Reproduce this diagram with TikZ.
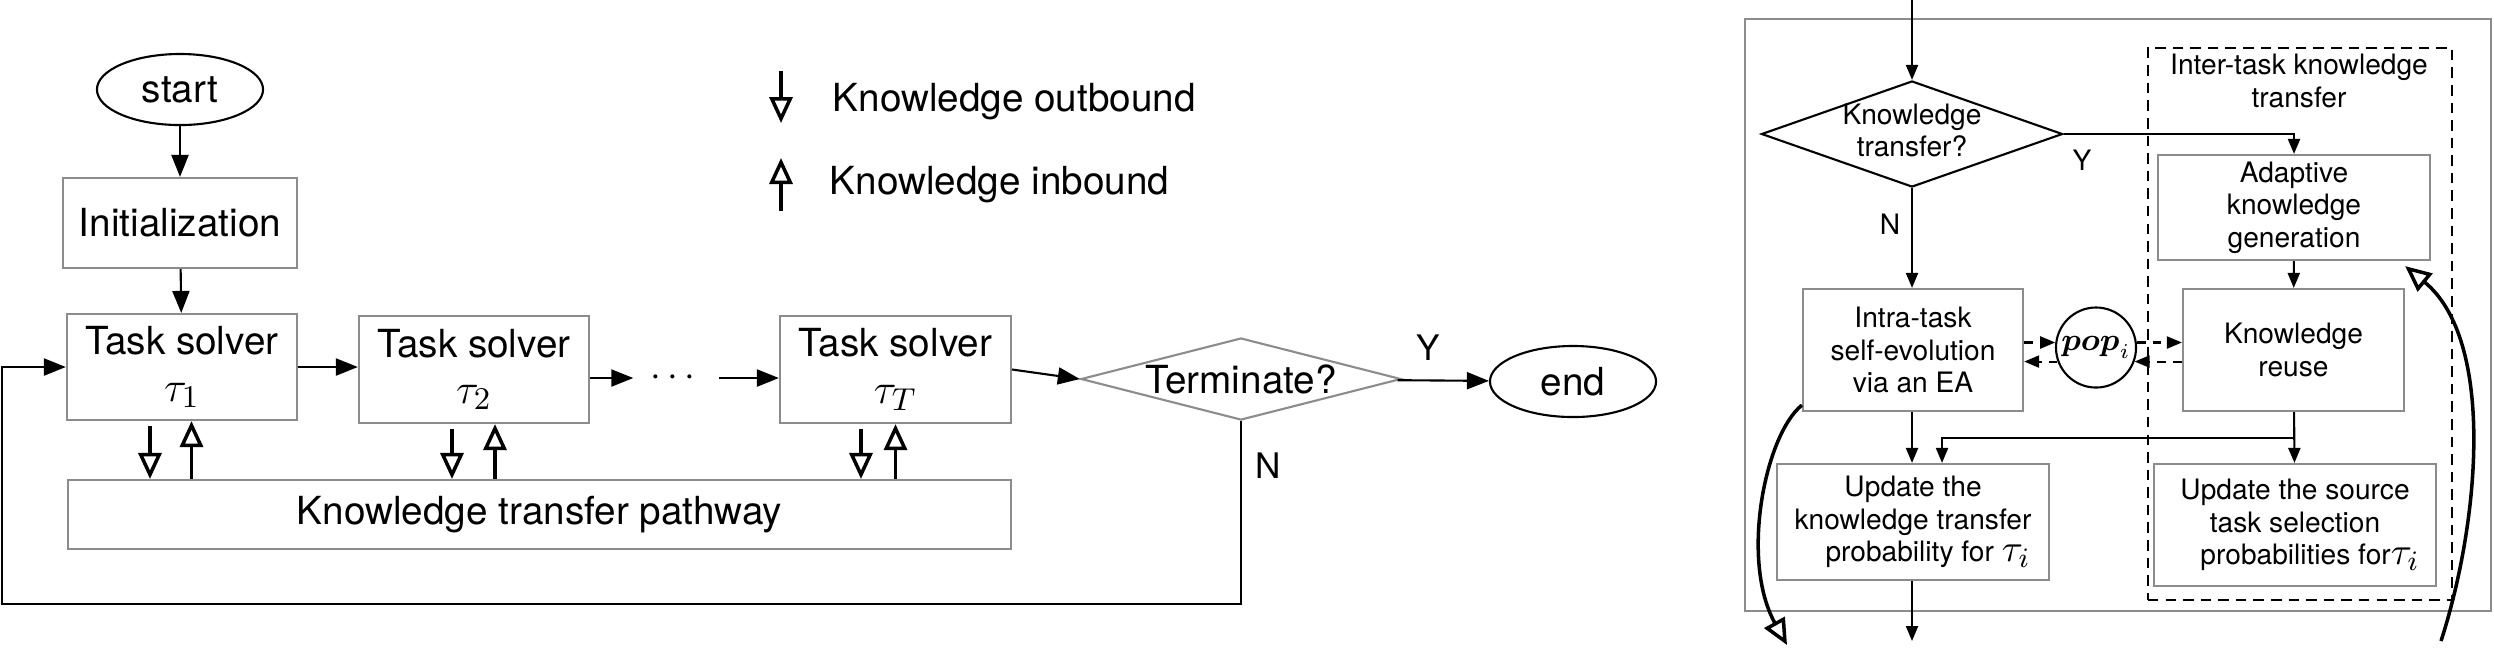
\documentclass[tikz,border=0pt]{standalone}
\usepackage{amsmath,amssymb}
\usepackage{fontspec}
\setmainfont{TeX Gyre Heros}
\usetikzlibrary{shapes.geometric,arrows.meta,positioning}
\definecolor{boxgray}{RGB}{140,140,140}
\newcommand{\bigtau}[1]{{\fontsize{13}{15}\selectfont$\tau_{#1}$}}
\newcommand{\midtau}[1]{{\fontsize{11}{9}\selectfont$\tau_{#1}$}}
\tikzset{
  greybox/.style={draw=boxgray,line width=0.6pt,inner sep=0pt,align=center},
  bigtxt/.style={font=\fontsize{11}{13.2}\selectfont},
  smalltxt/.style={font=\fontsize{8}{9.2}\selectfont},
  lbl/.style={inner sep=0pt},
  arr/.style={-{Triangle[length=2.2mm,width=1.7mm]},line width=0.6pt},
  sarr/.style={-{Triangle[length=1.5mm,width=1.2mm]},line width=0.6pt},
  darr/.style={sarr,dash pattern=on 2.5pt off 2pt},
  openarr/.style={-{Triangle[open,length=2.6mm,width=2.3mm]},line width=1pt},
}

\begin{document}
\begin{tikzpicture}[x=0.01cm,y=-0.01cm]
\useasboundingbox (0,0) rectangle (2494,650);
% Main loop
\node[draw,ellipse,line width=0.6pt,inner sep=0pt,minimum width=1.66cm,minimum height=0.71cm,bigtxt] (start) at (180,89.5) {start};
\node[greybox,bigtxt,minimum width=2.34cm,minimum height=0.9cm] (init) at (180,223) {Initialization};
\node[greybox,bigtxt,minimum width=2.3cm,minimum height=1.06cm] (ts1) at (182,367) {Task solver\\\bigtau{1}};
\node[greybox,bigtxt,minimum width=2.3cm,minimum height=1.07cm] (ts2) at (474,369.5) {Task solver\\\bigtau{2}};
\node[bigtxt,inner sep=0pt,minimum width=0.84cm] (dots) at (676,378) {$\cdots$};
\node[greybox,bigtxt,minimum width=2.31cm,minimum height=1.07cm] (tsT) at (895.5,369.5) {Task solver\\\bigtau{T}};
\node[greybox,bigtxt,minimum width=9.43cm,minimum height=0.69cm] (ktp) at (539.5,514.5) {Knowledge transfer pathway};
\node[diamond,draw=boxgray,line width=0.6pt,aspect=3.9,inner sep=0pt,minimum width=3.2cm,minimum height=0.82cm,bigtxt] (term) at (1241,379) {\makebox[0pt]{Terminate?}};
\node[draw,ellipse,line width=0.6pt,inner sep=0pt,minimum width=1.66cm,minimum height=0.71cm,bigtxt] (finish) at (1573,381.5) {end};
\coordinate (fbl) at (2,604); % loop back corner
\draw[arr] (start) -- (init);
\draw[arr] (init) -- (ts1);
\draw[arr] (ts1.east) -- (ts1.east -| ts2.west);
\draw[arr] (ts2.east |- dots) -- (dots.west);
\draw[arr] (dots.east) -- (tsT.west |- dots);
\draw[arr] (tsT.east) -- (term.west);
\draw[arr] (term) -- (finish);
\draw[arr] (term.south) |- (fbl) |- (ts1.west);
\node[lbl,font=\fontsize{10}{12}\selectfont] (ylbl) at (1428,348) {Y};
\node[lbl,font=\fontsize{10}{12}\selectfont] (nlbl) at (1268,466) {N};
% Knowledge out/in
\foreach \t/\o/\i in {ts1/-3.2mm/0.95mm,ts2/-2.2mm/2.1mm,tsT/-3.45mm/0mm}{
  \draw[openarr,shorten <=0.5mm] ([xshift=\o]\t.south) -- ([xshift=\o]\t.south |- ktp.north);
  \draw[openarr] ([xshift=\i]\t.south |- ktp.north) -- ([xshift=\i]\t.south);
}
% Legend
\coordinate (outtop) at (781,71);
\coordinate (outbot) at (781,123);
\coordinate (intop) at (781,158);
\coordinate (inbot) at (781,211);
\draw[openarr] (outtop) -- (outbot);
\draw[openarr] (inbot) -- (intop);
\node[lbl,bigtxt,right = 5.1mm of {(781,102)}] (outlbl) {Knowledge outbound};
\node[lbl,bigtxt,right = 4.8mm of {(781,185)}] (inlbl) {Knowledge inbound};
% Task solver detail
\node[greybox,minimum width=7.46cm,minimum height=5.915cm] (frame) at (2118,315.25) {};
\node[draw,line width=0.6pt,dash pattern=on 3pt off 2pt,inner sep=0pt,minimum width=3.04cm,minimum height=5.52cm] (inter) at (2300,324) {};
\node[smalltxt,align=center,inner sep=0pt] (intertxt) at (2299,81) {Inter-task knowledge\\transfer};
\node[diamond,draw,line width=0.6pt,aspect=2.84,inner sep=0pt,minimum width=3.01cm,minimum height=1.06cm,smalltxt] (kt) at (1912,134) {\makebox[0pt]{\begin{tabular}{@{}c@{}}Knowledge\\transfer?\end{tabular}}};
\node[greybox,smalltxt,minimum width=2.2cm,minimum height=1.22cm] (intra) at (1913,350) {Intra-task\\self-evolution\\via an EA};
\node[draw,circle,line width=0.6pt,inner sep=0pt,minimum size=0.8cm,font=\fontsize{9}{10}\selectfont] (pop) at (2096,347.5) {$\boldsymbol{pop}_i$};
\node[greybox,smalltxt,minimum width=2.72cm,minimum height=1.05cm] (adg) at (2294,207.5) {Adaptive\\knowledge\\generation};
\node[greybox,smalltxt,minimum width=2.21cm,minimum height=1.22cm] (reuse) at (2293.5,350) {Knowledge\\reuse};
\node[greybox,smalltxt,minimum width=2.72cm,minimum height=1.16cm] (upkt) at (1913,522) {Update the\\knowledge transfer\\\hspace*{3mm}probability for \midtau{i}};
\node[greybox,smalltxt,minimum width=2.82cm,minimum height=1.22cm] (upsrc) at (2295,525) {Update the source\\task selection\\\hspace*{3mm}probabilities for\midtau{i}};
\node[lbl,smalltxt] (ylbl2) at (2082,160) {Y};
\node[lbl,smalltxt] (nlbl2) at (1890,224) {N};
\coordinate (ktin) at (1912,0);
\coordinate (ktout) at (1912,641);
\coordinate (br) at ([yshift=-2.6mm]reuse.south); % branch point
\draw[sarr] (ktin) -- (kt.north);
\draw[sarr] (kt.east) -| (adg.north);
\draw[sarr] (kt.south) -- (kt.south |- intra.north);
\draw[sarr] (adg) -- (reuse);
\draw[sarr] (intra.south -| kt.south) -- (kt.south |- upkt.north);
\draw[sarr] (reuse) -- (upsrc);
\draw[sarr] (br) -| ([xshift=2.9mm]upkt.north);
\draw[sarr] (upkt.south -| ktout) -- (ktout);
% pop exchange
\draw[darr] (intra.east |- pop.173) -- (pop.173);
\draw[darr] (pop.7) -- (reuse.west |- pop.7);
\draw[darr] (reuse.west |- pop.-20) -- (pop.-20);
\draw[darr] (pop.200) -- (intra.east |- pop.200);
% Outer links
\coordinate (evout) at (1787,645);
\coordinate (adgin) at (2441,641);
\draw[openarr] ([yshift=0.7mm]intra.south west) .. controls (1765,435) and (1740,560) .. (evout);
\draw[openarr] (adgin) .. controls (2480,520) and (2495,340) .. ([xshift=-2.6mm,yshift=-0.5mm]adg.south east);
\end{tikzpicture}
\end{document}
